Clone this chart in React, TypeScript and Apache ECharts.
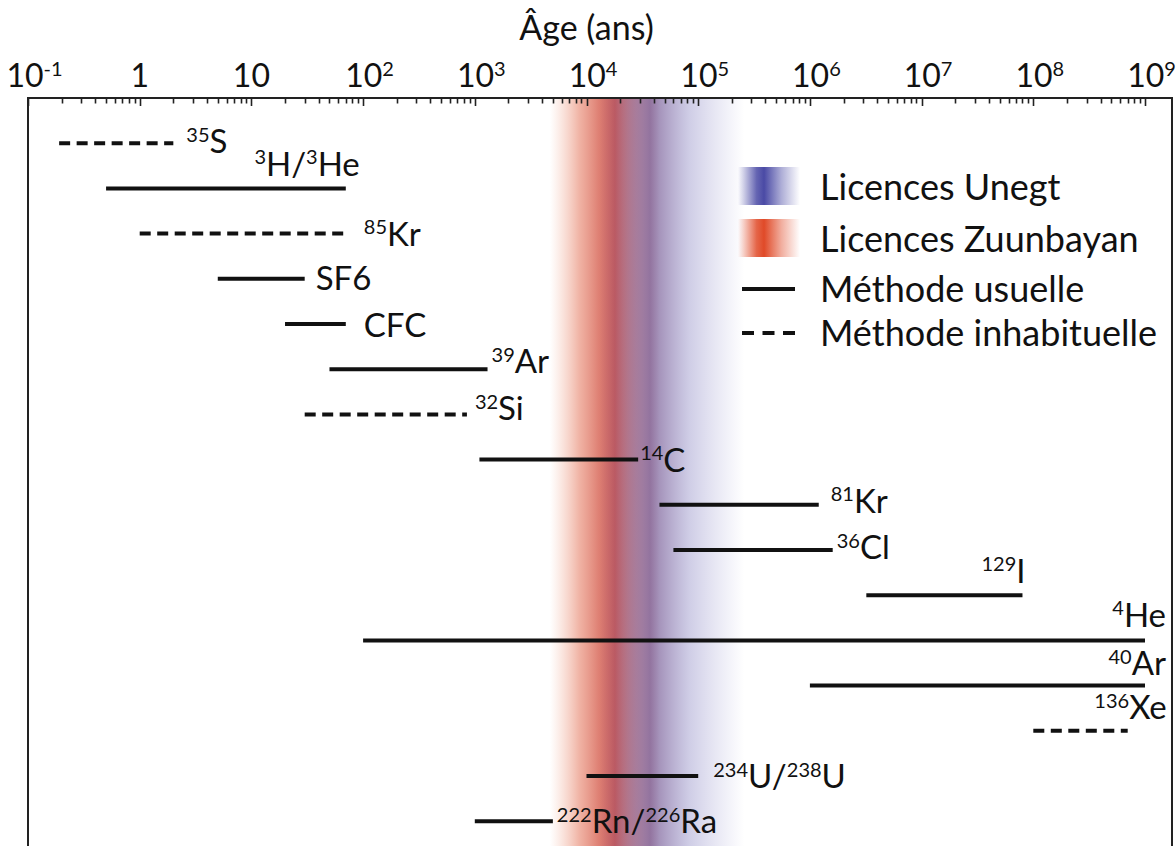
import React, { useEffect, useRef } from "react";
import * as echarts from "echarts";

// ---- data ----
const isotopeLabels = [
  "{s|35}{t|S}",
  "{s|3}{t|H/}{s|3}{t|He}",
  "{s|85}{t|Kr}",
  "{t|SF6}",
  "{t|CFC}",
  "{s|39}{t|Ar}",
  "{s|32}{t|Si}",
  "{s|14}{t|C}",
  "{s|81}{t|Kr}",
  "{s|36}{t|Cl}",
  "{s|129}{t|I}",
  "{s|4}{t|He}",
  "{s|40}{t|Ar}",
  "{s|136}{t|Xe}",
  "{s|234}{t|U/}{s|238}{t|U}",
  "{s|222}{t|Rn/}{s|226}{t|Ra}",
];
const ageMin = [0.19, 0.5, 1, 5, 20, 50, 30, 1100, 45000, 60000, 3.2e6, 100, 1e6, 1e8, 1e4, 1000];
const ageMax = [2, 70, 70, 30, 70, 1300, 850, 29000, 1.2e6, 1.6e6, 8e7, 1e9, 1e9, 7e8, 1e5, 5000];
const usualMethod = [0, 1, 0, 1, 1, 1, 0, 1, 1, 1, 1, 1, 1, 0, 1, 1];

// [min, peak, max] ages of the two licence bands
const zuunbayanBand = [4700, 18000, 45000];
const unegtBand = [13000, 37000, 260000];

const decadeTicks = [0.1, 1, 10, 1e2, 1e3, 1e4, 1e5, 1e6, 1e7, 1e8, 1e9];

const legendLabels = ["Licences Unegt", "Licences Zuunbayan", "Méthode usuelle", "Méthode inhabituelle"];

// ---- layout (label placement relative to line end) ----
// mode r: to the right, vertically centred; a: above, right-aligned
const labelLayout: { mode: string; dx: number; dy: number }[] = [
  { mode: "r", dx: 13, dy: -3 },
  { mode: "a", dx: 14, dy: -9 },
  { mode: "r", dx: 18, dy: -1 },
  { mode: "r", dx: 11, dy: -2 },
  { mode: "r", dx: 18, dy: 0 },
  { mode: "r", dx: 4, dy: -9 },
  { mode: "r", dx: 8, dy: -7 },
  { mode: "r", dx: 2, dy: -1 },
  { mode: "r", dx: 12, dy: -5 },
  { mode: "r", dx: 4, dy: -4 },
  { mode: "a", dx: 3, dy: -9 },
  { mode: "a", dx: 21, dy: -10 },
  { mode: "a", dx: 21, dy: -7 },
  { mode: "a", dx: 39, dy: -8 },
  { mode: "r", dx: 15, dy: -1 },
  { mode: "r", dx: 4, dy: -1 },
];

const FONT = "Lato";
const INK = "#111111";

const labelRich = {
  t: { fontSize: 33, fontFamily: FONT, color: INK, fill: INK },
  s: { fontSize: 20, fontFamily: FONT, color: INK, fill: INK, verticalAlign: "top" },
};

function minorTickValues() {
  const out: number[] = [];
  for (let i = 0; i < decadeTicks.length - 1; i++) {
    for (let m = 2; m <= 9; m++) out.push(decadeTicks[i] * m);
  }
  return out;
}

function redStops(f: number) {
  return [
    { offset: 0, color: "rgba(240,160,130,0)" },
    { offset: f * 0.45, color: "rgba(228,118,92,0.55)" },
    { offset: f * 0.75, color: "rgba(215,100,85,0.82)" },
    { offset: f, color: "rgba(200,82,78,0.95)" },
    { offset: f + (1 - f) * 0.4, color: "rgba(190,85,85,0.6)" },
    { offset: 1, color: "rgba(190,90,90,0)" },
  ];
}
function blueStops(f: number) {
  return [
    { offset: 0, color: "rgba(120,90,160,0)" },
    { offset: f * 0.5, color: "rgba(115,85,150,0.3)" },
    { offset: f, color: "rgba(110,75,135,0.72)" },
    { offset: f + (1 - f) * 0.42, color: "rgba(130,125,190,0.38)" },
    { offset: 1, color: "rgba(150,150,210,0)" },
  ];
}

export default function App() {
  const ref = useRef<HTMLDivElement>(null);
  useEffect(() => {
    if (!ref.current) return;
    const chart = echarts.init(ref.current, undefined, { renderer: "svg" });

    const bandRender = (stopsFn: (f: number) => any) => (params: any, api: any) => {
      const lo = api.value(0), peak = api.value(1), hi = api.value(2);
      const x0 = api.coord([lo, 0])[0];
      const x1 = api.coord([hi, 0])[0];
      const xp = api.coord([peak, 0])[0];
      const cs = params.coordSys;
      const f = (xp - x0) / (x1 - x0);
      return {
        type: "rect",
        silent: true,
        shape: { x: x0, y: cs.y + 1, width: x1 - x0, height: cs.height },
        style: { fill: new echarts.graphic.LinearGradient(0, 0, 1, 0, stopsFn(f)) },
      };
    };

    const isoData = ageMin.map((v, i) => [v, ageMax[i], i, usualMethod[i], i]);

    const swatch = (y: number, color: string) => ({
      type: "rect",
      shape: { x: 738, y, width: 62, height: 38 },
      style: {
        fill: new echarts.graphic.LinearGradient(0, 0, 1, 0, [
          { offset: 0, color: color.replace("A", "0") },
          { offset: 0.3, color: color.replace("A", "0.85") },
          { offset: 0.42, color: color.replace("A", "1") },
          { offset: 0.7, color: color.replace("A", "0.45") },
          { offset: 1, color: color.replace("A", "0") },
        ]),
      },
    });

    const legendText = (y: number, text: string) => ({
      type: "text",
      x: 820,
      y,
      style: { text, fontSize: 36, fontFamily: FONT, fill: INK, align: "left", verticalAlign: "middle" },
    });

    // axis ticks drawn through the x scale (major at decades, minor at 2..9 x decade)
    const tickData = [
      ...decadeTicks.map((v) => [v, 0, 1]),
      ...minorTickValues().map((v) => [v, 0, 0]),
    ];

    chart.setOption({
      animation: false,
      backgroundColor: "#ffffff",
      grid: { left: 28, top: 98, width: 1117, height: 791, containLabel: false, outerBoundsMode: "none" },
      xAxis: {
        type: "log",
        logBase: 10,
        position: "top",
        min: 0.1,
        max: 1e9,
        splitNumber: 10,
        name: "Âge (ans)",
        nameLocation: "middle",
        nameGap: 55,
        nameTextStyle: { fontSize: 34, fontFamily: FONT, color: INK },
        axisLine: { show: false, onZero: false },
        axisTick: { show: false },
        splitLine: { show: false },
        axisLabel: {
          margin: 8,
          color: INK,
          formatter: (v: number) => {
            const e = Math.round(Math.log10(v));
            if (e === 0) return "{b|1}";
            if (e === 1) return "{b|10}";
            return "{p|}{b|10}{s|" + e + "}";
          },
          rich: {
            b: { fontSize: 32, fontFamily: FONT, color: INK },
            s: { fontSize: 20, fontFamily: FONT, color: INK, verticalAlign: "top" },
            p: { width: 13 },
          },
        },
      },
      yAxis: { type: "value", inverse: true, min: -1, max: 16.5, show: false, axisLine: { onZero: false } },
      series: [
        {
          type: "custom",
          name: "Licences Zuunbayan",
          z: 1,
          renderItem: bandRender(redStops),
          encode: { x: [0, 1, 2], y: 3 },
          data: [[...zuunbayanBand, 0]],
        },
        {
          type: "custom",
          name: "Licences Unegt",
          z: 2,
          renderItem: bandRender(blueStops),
          encode: { x: [0, 1, 2], y: 3 },
          data: [[...unegtBand, 0]],
        },
        {
          type: "custom",
          name: "axis ticks",
          z: 20,
          renderItem: (params: any, api: any) => {
            const x = Math.round(api.coord([api.value(0), 0])[0]) + 0.5;
            const top = params.coordSys.y;
            const len = api.value(2) === 1 ? 8 : 5.5;
            return {
              type: "line",
              silent: true,
              shape: { x1: x, y1: top, x2: x, y2: top + len },
              style: { stroke: "#222222", lineWidth: 1.6 },
            };
          },
          encode: { x: 0, y: 1 },
          data: tickData,
        },
        {
          type: "custom",
          name: "isotopes",
          z: 5,
          renderItem: (params: any, api: any) => {
            const i = api.value(4);
            const a = api.coord([api.value(0), api.value(2)]);
            const b = api.coord([api.value(1), api.value(2)]);
            const dashed = api.value(3) === 0;
            const lay = labelLayout[i];
            const above = lay.mode === "a";
            return {
              type: "group",
              children: [
                {
                  type: "line",
                  shape: { x1: a[0], y1: a[1], x2: b[0], y2: b[1] },
                  style: { stroke: INK, lineWidth: 4, lineDash: dashed ? [11, 6.5] : null },
                },
                {
                  type: "text",
                  x: b[0] + lay.dx,
                  y: b[1] + lay.dy,
                  style: {
                    text: isotopeLabels[i],
                    rich: labelRich,
                    fill: INK,
                    fontSize: 33,
                    fontFamily: FONT,
                    align: above ? "right" : "left",
                    verticalAlign: above ? "bottom" : "middle",
                  },
                },
              ],
            };
          },
          encode: { x: [0, 1], y: 2 },
          data: isoData,
        },
      ],
      graphic: [
        {
          type: "polyline",
          z: 10,
          silent: true,
          shape: { points: [[28, 850], [28, 98], [1172, 98], [1172, 850]] },
          style: { stroke: "#222", lineWidth: 2, fill: null },
        },
        swatch(167, "rgba(74,74,165,A)"),
        swatch(219, "rgba(224,74,40,A)"),
        { type: "line", shape: { x1: 742, y1: 289, x2: 795, y2: 289 }, style: { stroke: INK, lineWidth: 4 } },
        {
          type: "line",
          shape: { x1: 742, y1: 333, x2: 795, y2: 333 },
          style: { stroke: INK, lineWidth: 4, lineDash: [12, 8.5] },
        },
        legendText(186, legendLabels[0]),
        legendText(238, legendLabels[1]),
        legendText(288, legendLabels[2]),
        legendText(332, legendLabels[3]),
      ],
    });
    return () => chart.dispose();
  }, []);
  return (
    <div
      ref={ref}
      style={{ position: "fixed", left: 0, top: 0, width: 1176, height: 846, background: "#fff" }}
    />
  );
}
